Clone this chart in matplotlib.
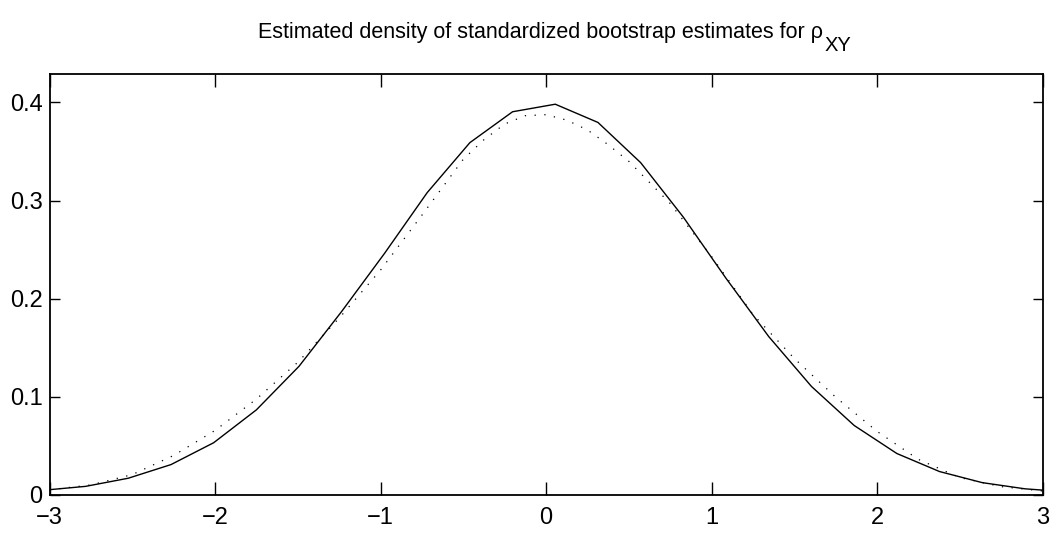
import matplotlib
matplotlib.use("Agg")
import matplotlib.pyplot as plt
from matplotlib.transforms import offset_copy

plt.rcParams['font.family'] = ['Liberation Sans', 'DejaVu Sans']

# Solid curve: kernel estimate evaluated on its grid
solid_x = [-3.040, -2.782, -2.524, -2.266, -2.008, -1.750, -1.492, -1.234,
           -0.976, -0.718, -0.460, -0.202, 0.056, 0.314, 0.572, 0.830,
           1.088, 1.346, 1.604, 1.862, 2.120, 2.378, 2.636, 2.894, 3.152]
solid_y = [0.0045, 0.0085, 0.0168, 0.0307, 0.0530, 0.0865, 0.1310, 0.1870,
           0.2460, 0.3080, 0.3590, 0.3905, 0.3982, 0.3796, 0.3386, 0.2830,
           0.2206, 0.1612, 0.1104, 0.0706, 0.0420, 0.0236, 0.0123, 0.0060, 0.0028]

# Dotted curve
dot_x = [-3.0, -2.75, -2.5, -2.25, -2.0, -1.75, -1.5, -1.25, -1.0, -0.75,
         -0.5, -0.375, -0.25, -0.125, 0.0, 0.125, 0.25, 0.375, 0.5, 0.75,
         1.0, 1.25, 1.5, 1.75, 2.0, 2.25, 2.5, 2.75, 3.0]
dot_y = [0.0050, 0.0100, 0.0205, 0.0400, 0.0655, 0.0975, 0.1350, 0.1800,
         0.2290, 0.2850, 0.3420, 0.3620, 0.3780, 0.3865, 0.3875, 0.3820,
         0.3720, 0.3570, 0.3400, 0.2970, 0.2430, 0.1840, 0.1390, 0.0995,
         0.0646, 0.0360, 0.0175, 0.0082, 0.0038]

x_ticks = [-3, -2, -1, 0, 1, 2, 3]
x_ticklabels = ['\u22123', '\u22122', '\u22121', '0', '1', '2', '3']
y_ticks = [0, 0.1, 0.2, 0.3, 0.4]
y_ticklabels = ['0', '0.1', '0.2', '0.3', '0.4']

fig = plt.figure(figsize=(10.62, 5.39), dpi=100)
ax = fig.add_axes([49.5 / 1062, 44.3 / 539, 993 / 1062, 420.7 / 539])

ax.plot(solid_x, solid_y, color='black', lw=1.0, solid_joinstyle='miter')
ax.plot(dot_x, dot_y, color='black', lw=0.9, linestyle=(0, (1.0, 6.8)),
        dash_capstyle='butt')

ax.set_xlim(-3, 3)
ax.set_ylim(0, 0.429)
ax.set_xticks(x_ticks)
ax.set_xticklabels(x_ticklabels)
ax.set_yticks(y_ticks)
ax.set_yticklabels(y_ticklabels)

for s in ax.spines.values():
    s.set_linewidth(1.3)

ax.tick_params(axis='x', direction='in', length=9.5, width=1.0, top=True,
               labelsize=17, pad=9)
ax.tick_params(axis='y', direction='in', length=7.5, width=1.0, right=True,
               labelsize=17, pad=5)

# Title with large subscript
title = fig.text(0.5094, 0.9295, 'Estimated density of standardized bootstrap estimates for \u03c1',
                 ha='center', va='baseline', fontsize=15.5)
fig.canvas.draw()
bb = title.get_window_extent()
x_end = fig.transFigure.inverted().transform((bb.x1, bb.y0))[0]
fig.text(x_end, 0.9295, 'XY', ha='left', va='baseline', fontsize=14.5,
         transform=offset_copy(fig.transFigure, fig=fig, x=1, y=-13, units='dots'))

fig.savefig('out.png', dpi=100)
